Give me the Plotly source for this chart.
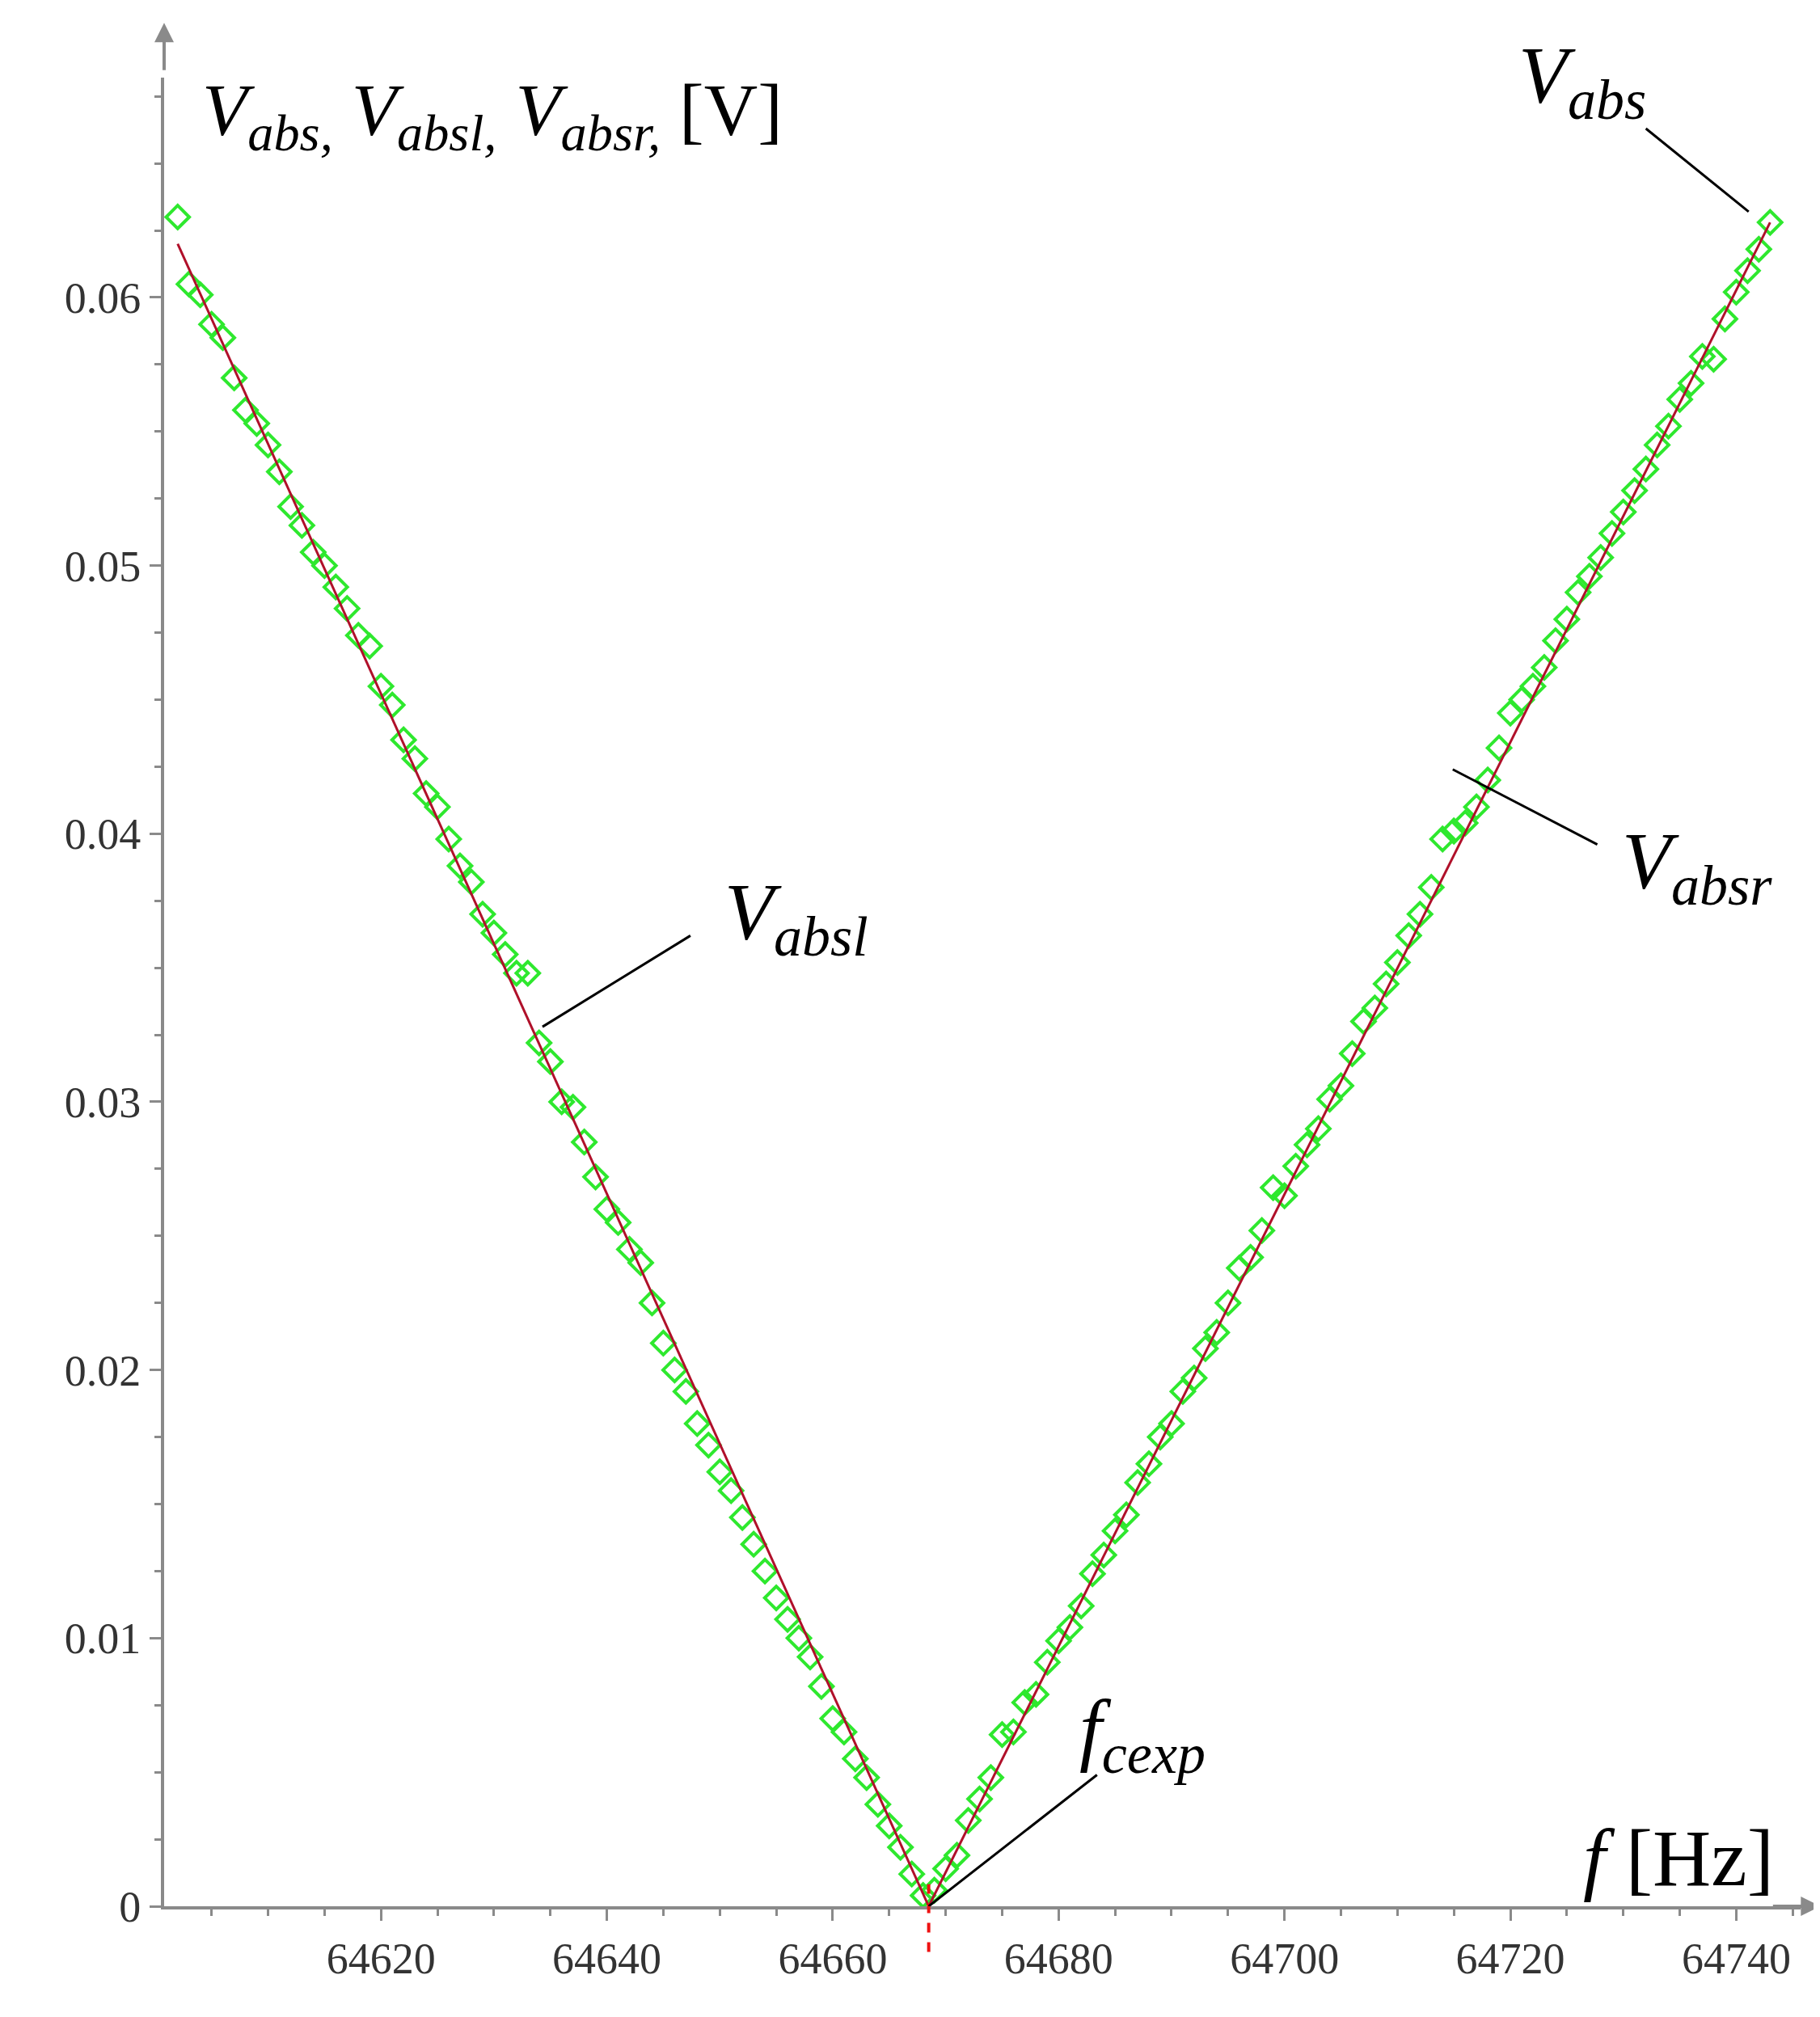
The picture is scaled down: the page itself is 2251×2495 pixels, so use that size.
import plotly.graph_objects as go

f_left = list(range(64602, 64669))
v_left = [0.0630,0.0605,0.0601,0.0590,0.0585,0.0570,0.0558,0.0553,0.0545,0.0535,
          0.0522,0.0515,0.0505,0.0500,0.0492,0.0484,0.0474,0.0470,0.0455,0.0448,
          0.0435,0.0428,0.0415,0.0410,0.0398,0.0388,0.0382,0.0370,0.0363,0.0355,
          0.0348,0.0348,0.0322,0.0315,0.0300,0.0298,0.0285,0.0272,0.0260,0.0255,
          0.0245,0.0240,0.0225,0.0210,0.0200,0.0192,0.0180,0.0172,0.0162,0.0155,
          0.0145,0.0135,0.0125,0.0115,0.0107,0.0100,0.0093,0.0082,0.0070,0.0065,
          0.0055,0.0048,0.0038,0.0030,0.0022,0.0012,0.0004]
f_right = list(range(64669, 64744))
v_right = [0.0006,0.0014,0.0019,0.0032,0.0040,0.0048,0.0064,0.0065,0.0076,0.0079,
           0.0091,0.0099,0.0104,0.0112,0.0124,0.0131,0.0140,0.0146,0.0158,0.0165,
           0.0175,0.0180,0.0192,0.0197,0.0208,0.0214,0.0225,0.0238,0.0242,0.0252,
           0.0268,0.0265,0.0276,0.0284,0.0290,0.0301,0.0306,0.0318,0.0330,0.0335,
           0.0344,0.0352,0.0362,0.0370,0.0380,0.0398,0.0401,0.0404,0.0410,0.0420,
           0.0432,0.0445,0.0450,0.0455,0.0462,0.0472,0.0480,0.0490,0.0496,0.0503,
           0.0512,0.0520,0.0528,0.0536,0.0545,0.0552,0.0562,0.0568,0.0578,0.0577,
           0.0592,0.0602,0.0610,0.0618,0.0628]
fit_left_f = [64602, 64668.5]
fit_left_v = [0.0620, 0.0]
fit_right_f = [64668.5, 64743]
fit_right_v = [0.0, 0.0628]
f_cexp = 64668.5

x_ticks = [64620, 64640, 64660, 64680, 64700, 64720, 64740]
x_labels = ["64620", "64640", "64660", "64680", "64700", "64720", "64740"]
y_ticks = [0, 0.01, 0.02, 0.03, 0.04, 0.05, 0.06]
y_labels = ["0", "0.01", "0.02", "0.03", "0.04", "0.05", "0.06"]

GREEN = "#2ee82e"
RED = "#b0102a"
GREY = "#8a8a8a"
SERIF = "Liberation Serif"

fig = go.Figure()
for fx, vy in [(f_left, v_left), (f_right, v_right)]:
    fig.add_trace(go.Scatter(x=fx, y=vy, mode="markers", cliponaxis=False,
                             marker=dict(symbol="diamond-open", size=22, color=GREEN,
                                         line=dict(width=4, color=GREEN))))
for fx, vy in [(fit_left_f, fit_left_v), (fit_right_f, fit_right_v)]:
    fig.add_trace(go.Scatter(x=fx, y=vy, mode="lines", cliponaxis=False,
                             line=dict(color=RED, width=3)))

axis_common = dict(showgrid=False, zeroline=False, showline=True, linecolor=GREY,
                   linewidth=4, ticks="outside", tickcolor=GREY, tickwidth=3, ticklen=14,
                   tickfont=dict(family=SERIF, size=54, color="#333333"),
                   minor=dict(ticks="outside", ticklen=8, tickcolor=GREY, tickwidth=3))
fig.update_xaxes(range=[64600.8, 64745.7], tickvals=x_ticks, ticktext=x_labels, **axis_common)
fig.update_xaxes(minor_dtick=5, minor_tick0=64600)
fig.update_yaxes(range=[0, 0.0682], tickvals=y_ticks, ticktext=y_labels, **axis_common)
fig.update_yaxes(minor_dtick=0.0025, minor_tick0=0)

fig.add_shape(type="line", x0=f_cexp, x1=f_cexp, xref="x", yref="paper", y0=-0.025, y1=0.012,
              line=dict(color="#ee1111", width=4, dash="dash"))
fig.add_annotation(x=1.012, y=0, xref="paper", yref="paper", ax=-60, ay=0, text="",
                   showarrow=True, arrowhead=2, arrowsize=1.2, arrowwidth=4, arrowcolor=GREY)
fig.add_annotation(x=0, y=1.03, xref="paper", yref="paper", ax=0, ay=60, text="",
                   showarrow=True, arrowhead=2, arrowsize=1.2, arrowwidth=4, arrowcolor=GREY)

def label(text, x, y, size=100, xanchor="left"):
    fig.add_annotation(x=x, y=y, text=text, showarrow=False, xanchor=xanchor, yanchor="middle",
                       font=dict(family=SERIF, size=size, color="black"))

def leader(x0, y0, x1, y1):
    fig.add_shape(type="line", x0=x0, y0=y0, x1=x1, y1=y1, line=dict(color="black", width=3))

label("<i>V<sub>abs,</sub> V<sub>absl,</sub> V<sub>absr,</sub></i> [V]", 64604.0, 0.0668, size=92)
label("<i>V<sub>absl</sub></i>", 64650.3, 0.0369)
leader(64647.4, 0.0362, 64634.3, 0.0328)
label("<i>V<sub>absr</sub></i>", 64729.7, 0.0388)
leader(64727.7, 0.0396, 64714.9, 0.0424)
label("<i>V<sub>abs</sub></i>", 64720.6, 0.0681)
leader(64732.0, 0.0663, 64741.1, 0.0632)
label("<i>f<sub>cexp</sub></i>", 64681.7, 0.0064)
leader(64683.4, 0.0049, 64668.5, 0.0)
label("<i>f</i> [Hz]", 64726.3, 0.0018)

fig.update_layout(width=2251, height=2495, showlegend=False,
                  paper_bgcolor="white", plot_bgcolor="white",
                  margin=dict(l=195, r=32, t=88, b=145))
fig.write_html("out.html")
